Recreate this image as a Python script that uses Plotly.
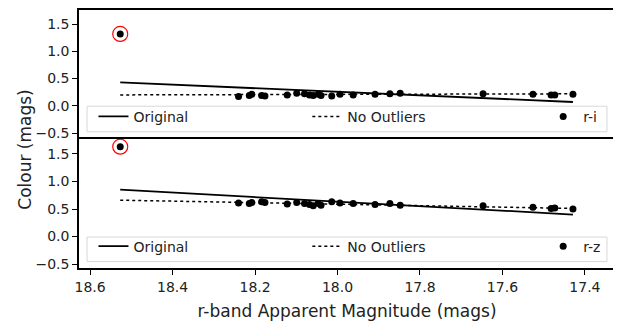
import plotly.graph_objects as go
from plotly.subplots import make_subplots

# r-band magnitudes of the sources and their colours
r_mag = [18.527, 18.240, 18.214, 18.208, 18.184, 18.176, 18.122, 18.099, 18.080,
         18.068, 18.059, 18.047, 18.040, 18.014, 17.994, 17.962, 17.909, 17.873,
         17.848, 17.647, 17.526, 17.482, 17.473, 17.429]
r_i = [1.32, 0.17, 0.19, 0.21, 0.19, 0.18, 0.20, 0.23, 0.22, 0.20, 0.19, 0.21,
       0.19, 0.18, 0.21, 0.20, 0.21, 0.22, 0.23, 0.22, 0.21, 0.20, 0.20, 0.21]
r_z = [1.63, 0.61, 0.60, 0.62, 0.63, 0.62, 0.59, 0.62, 0.60, 0.58, 0.56, 0.60,
       0.57, 0.63, 0.61, 0.60, 0.58, 0.60, 0.57, 0.56, 0.53, 0.51, 0.52, 0.50]

# outlier that was removed
outlier_mag = [18.527]
outlier_ri = [1.32]
outlier_rz = [1.63]

# fitted lines (end points)
fit_mag = [18.527, 17.429]
ri_original = [0.43, 0.07]
ri_no_outliers = [0.20, 0.22]
rz_original = [0.85, 0.40]
rz_no_outliers = [0.66, 0.51]

y_ticks = [-0.5, 0.0, 0.5, 1.0, 1.5]
x_ticks = [18.6, 18.4, 18.2, 18.0, 17.8, 17.6, 17.4]

font = "DejaVu Sans"
fig = make_subplots(rows=2, cols=1, shared_xaxes=True, vertical_spacing=0)

panels = [(1, r_i, outlier_ri, ri_original, ri_no_outliers, "r-i", ["legend", "legend2", "legend3"]),
          (2, r_z, outlier_rz, rz_original, rz_no_outliers, "r-z", ["legend4", "legend5", "legend6"])]

for row, colour, out_y, orig, clean, name, legs in panels:
    fig.add_trace(go.Scatter(x=fit_mag, y=orig, mode="lines", name="Original",
                             line=dict(color="black", width=1.8), legend=legs[0]), row=row, col=1)
    fig.add_trace(go.Scatter(x=fit_mag, y=clean, mode="lines", name="No Outliers",
                             line=dict(color="black", width=1.5, dash="dot"), legend=legs[1]), row=row, col=1)
    fig.add_trace(go.Scatter(x=r_mag, y=colour, mode="markers", name=name,
                             marker=dict(color="black", size=7), legend=legs[2]), row=row, col=1)
    fig.add_trace(go.Scatter(x=outlier_mag, y=out_y, mode="markers", showlegend=False,
                             marker=dict(color="rgba(0,0,0,0)", size=15,
                                         line=dict(color="red", width=1.2))), row=row, col=1)

# legends: one per entry so that they spread over the box like matplotlib's expand mode
leg_x = [0.027, 0.426, 0.866]
leg_y = [0.524, 0.021]
leg_cfg = {}
n = 0
for yy in leg_y:
    for xx in leg_x:
        key = "legend" if n == 0 else "legend" + str(n + 1)
        leg_cfg[key] = dict(x=xx, y=yy, xanchor="left", yanchor="bottom", bgcolor="rgba(0,0,0,0)",
                            font=dict(family=font, size=14, color="#222"), itemwidth=30)
        n += 1
fig.update_layout(**leg_cfg)

# legend boxes
for y0, y1 in [(0.528, 0.627), (0.025, 0.12)]:
    fig.add_shape(type="rect", xref="paper", yref="paper", x0=0.015, x1=0.985, y0=y0, y1=y1,
                  line=dict(color="#d8d8d8", width=1), fillcolor="rgba(255,255,255,0.8)", layer="below")

axis_style = dict(showline=True, linecolor="black", linewidth=1.5, ticks="outside", automargin=False,
                  tickcolor="black", ticklen=5, showgrid=False, zeroline=False,
                  tickfont=dict(family=font, size=14, color="#222"))

fig.update_xaxes(axis_style, range=[18.627, 17.327], tickvals=x_ticks, tickformat=".1f")
fig.update_xaxes(side="top", showticklabels=False, mirror=False, ticklen=4, row=1, col=1)
fig.update_xaxes(mirror=True, title=dict(text="r-band Apparent Magnitude (mags)", standoff=12,
                                         font=dict(family=font, size=17, color="#222")), row=2, col=1)
fig.update_yaxes(axis_style, tickvals=y_ticks, tickformat=".1f", mirror="ticks")
fig.update_yaxes(range=[-0.61, 1.76], row=1, col=1)
fig.update_yaxes(range=[-0.57, 1.77], row=2, col=1)

fig.add_annotation(text="Colour (mags)", textangle=-90, xref="paper", yref="paper",
                   x=-0.1, y=0.46, xanchor="center", yanchor="middle", showarrow=False,
                   font=dict(family=font, size=17, color="#222"))

# page body has an 8px margin, so the margins below are shifted to compensate
fig.update_layout(width=621, height=329, margin=dict(l=71, r=14, t=2, b=69),
                  plot_bgcolor="white", paper_bgcolor="white")

fig.write_html("out.html")
